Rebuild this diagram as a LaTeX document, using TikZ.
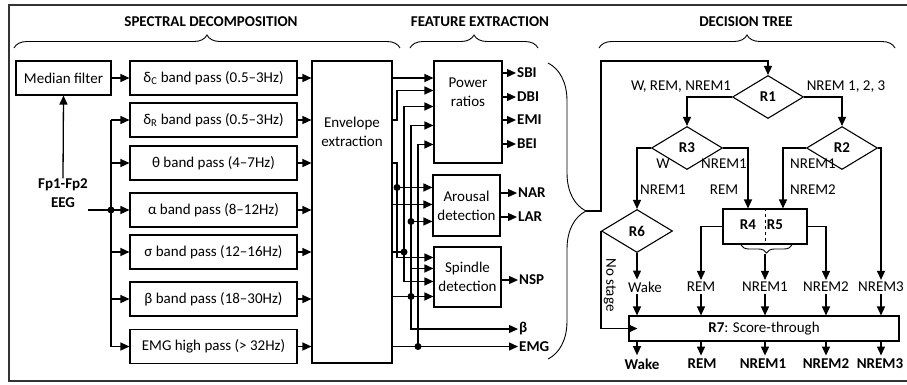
\documentclass[tikz,border=0pt]{standalone}
\usepackage{fontspec}
\setmainfont{Carlito}
\usetikzlibrary{shapes.geometric, arrows.meta, positioning, decorations.pathreplacing, calc}

\begin{document}
\begin{tikzpicture}[
      x=1pt, y=-1pt,
      font=\fontsize{15}{19}\selectfont,
      box/.style={rectangle, draw=black, line width=1.1pt, inner sep=2pt,
                  align=center},
      band/.style={box, minimum width=167pt, minimum height=34pt},
      rule/.style={diamond, draw=black, line width=1.1pt, inner sep=0pt,
                   minimum width=71pt, minimum height=43pt,
                   font=\fontsize{15}{19}\selectfont\bfseries},
      head/.style={font=\fontsize{15}{19}\selectfont\bfseries},
      feat/.style={anchor=west, inner sep=1pt,
                   font=\fontsize{15}{19}\selectfont\bfseries},
      stage/.style={inner sep=2pt},
      twoline/.style={inner sep=0pt, font=\fontsize{15}{26}\selectfont},
      arr/.style={-{Triangle[length=9pt, width=8pt]}, line width=1.3pt},
      wire/.style={line width=1.3pt},
      dot/.style={circle, fill=black, inner sep=0pt, minimum size=7pt},
      brc/.style={decorate, decoration={brace, amplitude=#1}, line width=0.9pt}
    ]
    \useasboundingbox (0,0) rectangle (907,384);
    \draw[line width=1.2pt, black!80] (9,5) rectangle (920,381);

    \node[head] (hspec) at (211,22) {SPECTRAL DECOMPOSITION};
    \node[head] (hfeat) at (480,22) {FEATURE EXTRACTION};
    \node[head] (htree) at (746,22) {DECISION TREE};
    \draw[brc=13pt] (14,48) -- (400,48);
    \draw[brc=13pt] (410,48) -- (538,48);
    \draw[brc=13pt] (599,48) -- (895,48);

    \node[box, minimum width=95pt, minimum height=34pt] (med) at (63.5,78) {Median filter};
    \node[band] (dcbp) at (213.5,78)    {δ\textsubscript{C} band pass (0.5–3Hz)};
    \node[band] (drbp) at (213.5,120)   {δ\textsubscript{R} band pass (0.5–3Hz)};
    \node[band] (thbp) at (213.5,163)   {θ band pass (4–7Hz)};
    \node[band] (albp) at (213.5,210)   {α band pass (8–12Hz)};
    \node[band] (sibp) at (213.5,252)   {σ band pass (12–16Hz)};
    \node[band] (bebp) at (213.5,299)   {β band pass (18–30Hz)};
    \node[band] (embp) at (213.5,346.5) {EMG high pass (> 32Hz)};
    \node[head, align=center, inner sep=0pt] (eeg) at (63,193) {Fp1-Fp2\\EEG};

    \coordinate (bus) at (111,0);
    \draw[wire] (bus |- drbp) -- (bus |- embp);
    \draw[arr] (eeg.east |- albp) -- (albp.west);
    \node[dot] (jeeg) at (bus |- albp) {};
    \foreach \b in {drbp, thbp, sibp, bebp, embp}
      \draw[arr] (bus |- \b) -- (\b.west);
    \draw[arr] (eeg.north) -- (med.south);
    \draw[arr] (med) -- (dcbp);

    \node[box, minimum width=80pt, minimum height=302pt] (env) at (352,212) {};
    \node[align=center] (envtxt) at (352,132) {Envelope\\extraction};
    \foreach \b in {dcbp, drbp, thbp, albp, sibp, bebp, embp}
      \draw[arr] (\b.east) -- (env.west |- \b);

    \node[box, minimum width=68pt, minimum height=102pt] (pow) at (468,112) {};
    \node[align=center] (powtxt) at (468,92) {Power\\ratios};
    \node[box, minimum width=67pt, minimum height=61pt] (aro) at (466.5,205.5) {Arousal\\detection};
    \node[box, minimum width=67pt, minimum height=60pt] (spi) at (467.5,277) {Spindle\\detection};

    \coordinate (pin2) at ($(pow.north west)+(0,30)$);
    \coordinate (pin3) at ($(pow.north west)+(0,46)$);
    \coordinate (pin4) at ($(pow.north west)+(0,65)$);
    \coordinate (pin5) at ($(pow.north west)+(0,84)$);
    \coordinate (ain1) at ($(aro.north west)+(0,13)$);
    \coordinate (ain2) at ($(aro.north west)+(0,30)$);
    \coordinate (ain3) at ($(aro.north west)+(0,47)$);
    \coordinate (sin1) at ($(spi.north west)+(0,11)$);
    \coordinate (sin2) at ($(spi.north west)+(0,22)$);
    \coordinate (sin3) at ($(spi.north west)+(0,35)$);
    \coordinate (sin4) at ($(spi.north west)+(0,50)$);
    \coordinate (v1) at (397,0);
    \coordinate (v2) at (404,0);
    \coordinate (v3) at (411,0);
    \coordinate (v4) at (418,0);

    \node[feat] (sbi) at (516,73)    {SBI};
    \node[feat] (dbi) at (516,97)    {DBI};
    \node[feat] (emi) at (516,120)   {EMI};
    \node[feat] (bei) at (516,144)   {BEI};
    \node[feat] (nar) at (517,193)   {NAR};
    \node[feat] (lar) at (517,217)   {LAR};
    \node[feat] (nsp) at (518,280)   {NSP};
    \node[feat] (beta) at (518,329)  {β};
    \node[feat] (emg) at (518,346.5) {EMG};

    \draw[arr] (env.east |- dcbp) -- (pow.west |- dcbp);
    \draw[arr] (env.east |- drbp) -| (v1 |- pin2) -- (pin2);
    \draw[arr] (env.east |- thbp) -| (v1 |- sin1) -- (sin1);
    \draw[arr] (v1 |- ain1) -- (ain1);
    \draw[arr] (env.east |- ain2) -- (ain2);
    \draw[wire] (env.east |- sibp) -- (v2 |- sibp);
    \draw[arr] (v2 |- sibp) |- (pin3);
    \draw[arr] (v2 |- sibp) |- (sin3);
    \draw[arr] (env.east |- sin4) -- (sin4);
    \draw[arr] (v3 |- sin4) |- (pin4);
    \draw[arr] (v3 |- sin4) |- (beta.west);
    \draw[arr] (v3 |- ain3) -- (ain3);
    \draw[arr] (v3 |- sin2) -- (sin2);
    \draw[arr] (env.east |- embp) -- (emg.west);
    \draw[arr] (v4 |- embp) |- (pin5);
    \node[dot] (j1) at (v1 |- ain1) {};
    \node[dot] (j2) at (v2 |- sibp) {};
    \node[dot] (j3) at (v3 |- ain3) {};
    \node[dot] (j4) at (v3 |- sin4) {};
    \node[dot] (j5) at (v4 |- embp) {};

    \foreach \f in {sbi, dbi, emi, bei}
      \draw[arr] (pow.east |- \f) -- (\f.west);
    \foreach \f in {nar, lar}
      \draw[arr] (aro.east |- \f) -- (\f.west);
    \draw[arr] (spi.east |- nsp) -- (nsp.west);

    \draw[brc=38pt] (548,63) -- (548,359);
    \coordinate (btip) at (586,211);
    \coordinate (loop) at (601,61);

    \node[rule] (r1) at (768,97)  {R1};
    \node[rule] (r3) at (687,148) {R3};
    \node[rule] (r2) at (842,148) {R2};
    \node[rule] (r6) at (637,231) {R6};
    \node[box, minimum width=84pt, minimum height=35pt] (r45) at (765,226.5) {};
    \draw[dashed, line width=1pt] (r45.north) -- (r45.south);
    \node[head] (r4) at (748,225) {R4};
    \node[head] (r5) at (775,225) {R5};
    \draw[brc=8pt] (792,245) -- (741,245);
    \coordinate (r45tip) at (765,254);

    \node[stage] (lr1l) at (681,87) {W, REM, NREM1};
    \node[stage] (lr1r) at (846,87) {NREM 1, 2, 3};
    \node[twoline, align=center] (lr3l) at (663,177) {W\\NREM1};
    \node[twoline, align=center] (lr3r) at (724,177) {NREM1\\REM};
    \node[twoline, align=left] (lr2l) at (813,177) {NREM1\\NREM2};

    \node[stage] (wake) at (645,287) {Wake};
    \node[stage] (rem)  at (701,287) {REM};
    \node[stage] (n1)   at (765,287) {NREM1};
    \node[stage] (n2)   at (826,287) {NREM2};
    \node[stage] (n3)   at (881,287) {NREM3};

    \node[box, minimum width=270pt, minimum height=25pt, inner sep=1pt] (r7) at (764,328.5)
      {\textbf{R7}: Score-through};
    \node[head] (owake) at (642,364) {Wake};
    \node[head] (orem)  at (702,364) {REM};
    \node[head] (on1)   at (763,364) {NREM1};
    \node[head] (on2)   at (826,364) {NREM2};
    \node[head] (on3)   at (880,364) {NREM3};
    \node[rotate=-90] (nost) at (610,285) {No stage};

    \draw[arr] (btip) -| (loop) -| (r1.north);
    \draw[arr] (r1.west) -| (r3.north);
    \draw[arr] (r1.east) -| (r2.north);
    \draw[arr] (r3.west) -| (r6.north);
    \draw[arr] (r3.east) -| (r4 |- r45.north);
    \draw[arr] (r2.west) -| ($(r45.north)+(18,0)$);
    \draw[arr] (r2.east) -| (n3.north);
    \draw[arr] (r6.south) -- (r6 |- wake.north);
    \draw[arr] (r45.west) -| (rem.north);
    \draw[arr] (r45.east) -| (n2.north);
    \draw[arr] (r45tip) -- (n1.north);
    \draw[arr, shorten >=-9pt] (r6.west) |- (r7.west);
    \foreach \c/\m/\o in {r6/wake/owake, rem/rem/orem, n1/n1/on1, n2/n2/on2, n3/n3/on3} {
      \draw[arr] (\c |- \m.south) -- (\c |- r7.north);
      \draw[arr] (\c |- r7.south) -- (\c |- \o.north);
    }
  \end{tikzpicture}
\end{document}
